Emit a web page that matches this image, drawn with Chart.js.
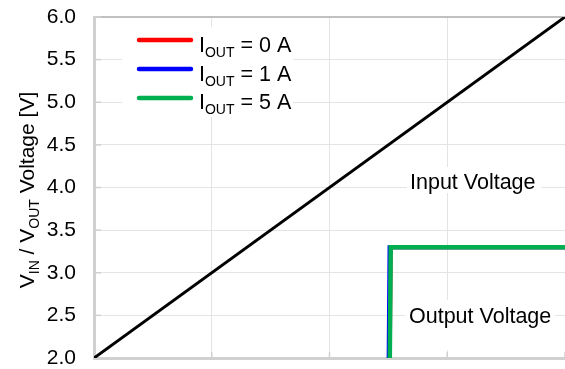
<!DOCTYPE html>
<html>
<head>
<meta charset="utf-8">
<script src="https://cdn.jsdelivr.net/npm/chart.js@4"></script>
<style>
  html, body { margin: 0; padding: 0; background: #fff; }
  #wrap { width: 565px; height: 369px; position: relative; }
</style>
</head>
<body>
<div id="wrap"><canvas id="chart"></canvas></div>
<script>
'use strict';

// Data
const vinX = [2.0, 6.0];
const vinY = [2.0, 6.0];

const out0X = [4.50, 4.52, 6.0];
const out1X = [4.49, 4.51, 6.0];
const out5X = [4.50, 4.52, 6.0];
const outY = [0.0, 3.3, 3.3];

const yTicks = [2.0, 2.5, 3.0, 3.5, 4.0, 4.5, 5.0, 5.5, 6.0];
const xTicks = [2, 3, 4, 5, 6];

const legendItems = [
  { sub: 'OUT', rest: ' = 0 A', color: '#ff0000' },
  { sub: 'OUT', rest: ' = 1 A', color: '#0000ff' },
  { sub: 'OUT', rest: ' = 5 A', color: '#00b050' }
];

const FONT = '"Liberation Sans", Arial, sans-serif';

function pts(xs, ys) {
  return xs.map((x, i) => ({ x: x, y: ys[i] }));
}

// draws main text + subscript pieces, returns end x
function drawSubText(ctx, parts, x, y, size, subSize) {
  parts.forEach(p => {
    if (p.sub) {
      ctx.font = subSize + 'px ' + FONT;
      ctx.fillText(p.text, x, y + 5);
    } else {
      ctx.font = size + 'px ' + FONT;
      ctx.fillText(p.text, x, y);
    }
    x += ctx.measureText(p.text).width;
  });
  return x;
}

const decorPlugin = {
  id: 'decor',
  beforeDatasetsDraw(chart) {
    const ctx = chart.ctx;
    const xs = chart.scales.x;
    const ys = chart.scales.y;
    const area = chart.chartArea;
    ctx.save();

    // small inner tick marks
    ctx.strokeStyle = '#d0d0d0';
    ctx.lineWidth = 1.5;
    yTicks.forEach(v => {
      const py = ys.getPixelForValue(v);
      ctx.beginPath();
      ctx.moveTo(area.left, py);
      ctx.lineTo(area.left + 7, py);
      ctx.stroke();
    });
    xTicks.forEach(v => {
      const px = xs.getPixelForValue(v);
      ctx.beginPath();
      ctx.moveTo(px, area.bottom);
      ctx.lineTo(px, area.bottom - 6);
      ctx.stroke();
    });

    // white boxes behind texts
    ctx.fillStyle = '#fff';
    ctx.fillRect(122, 27, 171, 90);
    ctx.fillRect(407, 167, 134, 26);
    ctx.fillRect(405, 300, 150, 50);

    // annotation texts
    ctx.fillStyle = '#000';
    ctx.textBaseline = 'alphabetic';
    ctx.textAlign = 'left';
    ctx.font = '21.5px ' + FONT;
    ctx.fillText('Input Voltage', 410, 189);
    ctx.fillText('Output Voltage', 409, 323);

    // legend
    const lineY = [40, 69, 98];
    const textY = [52, 81, 109];
    legendItems.forEach((it, i) => {
      ctx.strokeStyle = it.color;
      ctx.lineWidth = 4.5;
      ctx.lineCap = 'round';
      ctx.beginPath();
      ctx.moveTo(139, lineY[i]);
      ctx.lineTo(191, lineY[i]);
      ctx.stroke();
      ctx.fillStyle = '#000';
      drawSubText(ctx, [
        { text: 'I' },
        { text: it.sub, sub: true },
        { text: it.rest }
      ], 199, textY[i], 21.5, 14);
    });
    ctx.restore();
  },
  afterDraw(chart) {
    // y axis title with subscripts
    const ctx = chart.ctx;
    ctx.save();
    ctx.fillStyle = '#000';
    ctx.textAlign = 'left';
    ctx.textBaseline = 'alphabetic';
    const parts = [
      { text: 'V' }, { text: 'IN', sub: true },
      { text: ' / V' }, { text: 'OUT', sub: true },
      { text: ' Voltage [V]' }
    ];
    let w = 0;
    parts.forEach(p => {
      ctx.font = (p.sub ? 14 : 21) + 'px ' + FONT;
      w += ctx.measureText(p.text).width;
    });
    ctx.translate(34, 190);
    ctx.rotate(-Math.PI / 2);
    drawSubText(ctx, parts, -w / 2, 0, 21, 14);
    ctx.restore();
  }
};

const canvasElem = document.getElementById('chart');

const chartData = {
  datasets: [
    {
      label: 'Input',
      data: pts(vinX, vinY),
      borderColor: '#000000',
      borderWidth: 3,
      order: 0
    },
    {
      label: 'IOUT = 0 A',
      data: pts(out0X, outY),
      borderColor: '#ff0000',
      borderWidth: 4,
      order: 3
    },
    {
      label: 'IOUT = 1 A',
      data: pts(out1X, outY),
      borderColor: '#0000ff',
      borderWidth: 4,
      order: 2
    },
    {
      label: 'IOUT = 5 A',
      data: pts(out5X, outY),
      borderColor: '#00b050',
      borderWidth: 4.5,
      order: 1
    }
  ]
};

const chartConfig = {
  type: 'scatter',
  data: chartData,
  options: {
    responsive: true,
    maintainAspectRatio: false,
    animation: false,
    showLine: true,
    elements: {
      point: { radius: 0, hoverRadius: 0 },
      line: { tension: 0, borderJoinStyle: 'miter', fill: false }
    },
    layout: { padding: { top: 17, right: 0, left: 0, bottom: 0 } },
    plugins: {
      legend: { display: false },
      tooltip: { enabled: false }
    },
    scales: {
      x: {
        type: 'linear',
        min: 2,
        max: 6,
        afterBuildTicks(scale) {
          scale.ticks = xTicks.map(v => ({ value: v }));
        },
        afterFit(scale) {
          scale.height = 11;
          scale.paddingLeft = 0;
          scale.paddingRight = 0;
          scale.paddingTop = 0;
          scale.paddingBottom = 0;
        },
        ticks: { display: false },
        grid: { color: '#e4e4e4', lineWidth: 1, drawTicks: false },
        border: { color: '#d0d0d0', width: 3 }
      },
      y: {
        type: 'linear',
        min: 2,
        max: 6,
        afterBuildTicks(scale) {
          scale.ticks = yTicks.map(v => ({ value: v }));
        },
        afterFit(scale) {
          scale.width = 94;
          scale.paddingTop = 0;
          scale.paddingBottom = 0;
          scale.paddingLeft = 0;
          scale.paddingRight = 0;
        },
        ticks: {
          color: '#000',
          font: { family: FONT, size: 21 },
          padding: 18,
          callback: v => v.toFixed(1)
        },
        grid: {
          drawTicks: false,
          color: ctx => (ctx.tick && ctx.tick.value === 6 ? '#c0c0c0' : '#e4e4e4'),
          lineWidth: ctx => (ctx.tick && ctx.tick.value === 6 ? 2 : 1)
        },
        border: { color: '#d0d0d0', width: 3 }
      }
    }
  },
  plugins: [decorPlugin]
};

new Chart(canvasElem, chartConfig);
</script>
</body>
</html>
